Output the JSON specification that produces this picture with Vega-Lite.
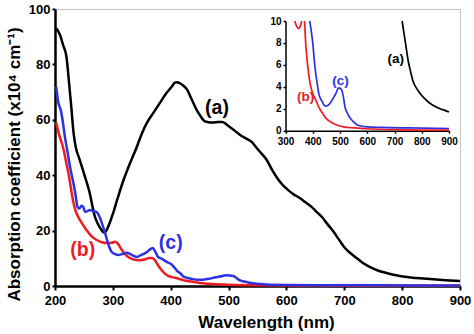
{
  "$schema": "https://vega.github.io/schema/vega-lite/v6.json",
  "width": 405,
  "height": 277,
  "autosize": "none",
  "padding": {"left": 55, "top": 9, "right": 14, "bottom": 48},
  "background": "white",
  "config": {
    "view": {"stroke": "#c4c4c4", "strokeWidth": 1},
    "font": "Liberation Sans"
  },
  "datasets": {
    "main": [
      {"s": "a", "nm": 202, "v": 93}, {"s": "a", "nm": 208, "v": 91}, {"s": "a", "nm": 214, "v": 87}, {"s": "a", "nm": 220, "v": 82.5},
      {"s": "a", "nm": 224, "v": 74}, {"s": "a", "nm": 228, "v": 65}, {"s": "a", "nm": 232, "v": 55.5}, {"s": "a", "nm": 236, "v": 50},
      {"s": "a", "nm": 242, "v": 46}, {"s": "a", "nm": 248, "v": 42}, {"s": "a", "nm": 254, "v": 38}, {"s": "a", "nm": 260, "v": 33.6},
      {"s": "a", "nm": 265, "v": 28.5}, {"s": "a", "nm": 269, "v": 25}, {"s": "a", "nm": 274, "v": 22.5}, {"s": "a", "nm": 278, "v": 21},
      {"s": "a", "nm": 283, "v": 19.5}, {"s": "a", "nm": 286, "v": 19.2}, {"s": "a", "nm": 290, "v": 20.5}, {"s": "a", "nm": 295, "v": 23},
      {"s": "a", "nm": 300, "v": 26}, {"s": "a", "nm": 308, "v": 31.5}, {"s": "a", "nm": 318, "v": 38}, {"s": "a", "nm": 328, "v": 43.5},
      {"s": "a", "nm": 341, "v": 50}, {"s": "a", "nm": 350, "v": 55}, {"s": "a", "nm": 359, "v": 59}, {"s": "a", "nm": 370, "v": 62.5},
      {"s": "a", "nm": 381, "v": 66}, {"s": "a", "nm": 392, "v": 69.5}, {"s": "a", "nm": 402, "v": 72}, {"s": "a", "nm": 407, "v": 73.4},
      {"s": "a", "nm": 411, "v": 73.6}, {"s": "a", "nm": 416, "v": 73.2}, {"s": "a", "nm": 422, "v": 72.3}, {"s": "a", "nm": 428, "v": 71},
      {"s": "a", "nm": 436, "v": 67.5}, {"s": "a", "nm": 445, "v": 63.5}, {"s": "a", "nm": 451, "v": 61.5}, {"s": "a", "nm": 456, "v": 60},
      {"s": "a", "nm": 463, "v": 59.2}, {"s": "a", "nm": 473, "v": 59}, {"s": "a", "nm": 482, "v": 59.2}, {"s": "a", "nm": 489, "v": 59.2},
      {"s": "a", "nm": 496, "v": 58.4}, {"s": "a", "nm": 502, "v": 57.4}, {"s": "a", "nm": 511, "v": 56}, {"s": "a", "nm": 520, "v": 54.5},
      {"s": "a", "nm": 530, "v": 53.3}, {"s": "a", "nm": 540, "v": 52}, {"s": "a", "nm": 548, "v": 50}, {"s": "a", "nm": 557, "v": 47.8},
      {"s": "a", "nm": 566, "v": 45.5}, {"s": "a", "nm": 575, "v": 42}, {"s": "a", "nm": 584, "v": 39}, {"s": "a", "nm": 593, "v": 36.6},
      {"s": "a", "nm": 603, "v": 34.6}, {"s": "a", "nm": 613, "v": 33}, {"s": "a", "nm": 623, "v": 31.8}, {"s": "a", "nm": 633, "v": 30.2},
      {"s": "a", "nm": 644, "v": 28.5}, {"s": "a", "nm": 652, "v": 26.8}, {"s": "a", "nm": 661, "v": 25}, {"s": "a", "nm": 670, "v": 22.6},
      {"s": "a", "nm": 680, "v": 20}, {"s": "a", "nm": 690, "v": 17}, {"s": "a", "nm": 700, "v": 14}, {"s": "a", "nm": 711, "v": 11.8},
      {"s": "a", "nm": 722, "v": 10}, {"s": "a", "nm": 733, "v": 8.2}, {"s": "a", "nm": 744, "v": 6.9}, {"s": "a", "nm": 758, "v": 5.6},
      {"s": "a", "nm": 773, "v": 4.7}, {"s": "a", "nm": 787, "v": 4}, {"s": "a", "nm": 801, "v": 3.4}, {"s": "a", "nm": 825, "v": 2.9},
      {"s": "a", "nm": 848, "v": 2.5}, {"s": "a", "nm": 875, "v": 2.1}, {"s": "a", "nm": 900, "v": 1.8},

      {"s": "b", "nm": 202, "v": 59}, {"s": "b", "nm": 208, "v": 54}, {"s": "b", "nm": 214, "v": 50}, {"s": "b", "nm": 219, "v": 45},
      {"s": "b", "nm": 223, "v": 41}, {"s": "b", "nm": 227, "v": 36}, {"s": "b", "nm": 231, "v": 31}, {"s": "b", "nm": 235, "v": 27.5},
      {"s": "b", "nm": 240, "v": 25}, {"s": "b", "nm": 247, "v": 22.5}, {"s": "b", "nm": 255, "v": 20}, {"s": "b", "nm": 263, "v": 18},
      {"s": "b", "nm": 272, "v": 16.6}, {"s": "b", "nm": 281, "v": 15.8}, {"s": "b", "nm": 290, "v": 15.5}, {"s": "b", "nm": 298, "v": 15.6},
      {"s": "b", "nm": 304, "v": 16}, {"s": "b", "nm": 309, "v": 15.2}, {"s": "b", "nm": 314, "v": 13.5}, {"s": "b", "nm": 320, "v": 11.8},
      {"s": "b", "nm": 328, "v": 10.3}, {"s": "b", "nm": 335, "v": 9.6}, {"s": "b", "nm": 345, "v": 9.3}, {"s": "b", "nm": 355, "v": 9.6},
      {"s": "b", "nm": 363, "v": 10.1}, {"s": "b", "nm": 368, "v": 10.1}, {"s": "b", "nm": 373, "v": 9.2}, {"s": "b", "nm": 378, "v": 7.5},
      {"s": "b", "nm": 384, "v": 5.8}, {"s": "b", "nm": 393, "v": 4}, {"s": "b", "nm": 402, "v": 3.2}, {"s": "b", "nm": 411, "v": 2.8},
      {"s": "b", "nm": 422, "v": 2.1}, {"s": "b", "nm": 436, "v": 1.6}, {"s": "b", "nm": 450, "v": 1.1}, {"s": "b", "nm": 466, "v": 0.8},
      {"s": "b", "nm": 490, "v": 0.5}, {"s": "b", "nm": 513, "v": 0.35}, {"s": "b", "nm": 550, "v": 0.25}, {"s": "b", "nm": 600, "v": 0.18},
      {"s": "b", "nm": 700, "v": 0.1}, {"s": "b", "nm": 800, "v": 0.06}, {"s": "b", "nm": 900, "v": 0.05},

      {"s": "c", "nm": 202, "v": 72}, {"s": "c", "nm": 206, "v": 66}, {"s": "c", "nm": 210, "v": 63.5}, {"s": "c", "nm": 213, "v": 60},
      {"s": "c", "nm": 217, "v": 54}, {"s": "c", "nm": 222, "v": 48}, {"s": "c", "nm": 226, "v": 43}, {"s": "c", "nm": 231, "v": 38},
      {"s": "c", "nm": 235, "v": 33.6}, {"s": "c", "nm": 239, "v": 28.5}, {"s": "c", "nm": 242, "v": 28}, {"s": "c", "nm": 246, "v": 29},
      {"s": "c", "nm": 249, "v": 28.5}, {"s": "c", "nm": 252, "v": 26.7}, {"s": "c", "nm": 256, "v": 27}, {"s": "c", "nm": 260, "v": 27.4},
      {"s": "c", "nm": 266, "v": 27}, {"s": "c", "nm": 272, "v": 26.7}, {"s": "c", "nm": 277, "v": 25}, {"s": "c", "nm": 281, "v": 22.7},
      {"s": "c", "nm": 286, "v": 19.5}, {"s": "c", "nm": 290, "v": 16.6}, {"s": "c", "nm": 294, "v": 14}, {"s": "c", "nm": 298, "v": 12.3},
      {"s": "c", "nm": 304, "v": 11.5}, {"s": "c", "nm": 309, "v": 11.2}, {"s": "c", "nm": 316, "v": 11.5}, {"s": "c", "nm": 324, "v": 12},
      {"s": "c", "nm": 332, "v": 11.3}, {"s": "c", "nm": 341, "v": 10.5}, {"s": "c", "nm": 350, "v": 11.3}, {"s": "c", "nm": 359, "v": 12.3},
      {"s": "c", "nm": 365, "v": 13.3}, {"s": "c", "nm": 369, "v": 13.7}, {"s": "c", "nm": 373, "v": 12.5}, {"s": "c", "nm": 378, "v": 10.5},
      {"s": "c", "nm": 385, "v": 9.8}, {"s": "c", "nm": 393, "v": 8.7}, {"s": "c", "nm": 400, "v": 8}, {"s": "c", "nm": 405, "v": 7},
      {"s": "c", "nm": 411, "v": 5.5}, {"s": "c", "nm": 417, "v": 4.5}, {"s": "c", "nm": 422, "v": 3.4}, {"s": "c", "nm": 429, "v": 2.9},
      {"s": "c", "nm": 436, "v": 2.6}, {"s": "c", "nm": 447, "v": 2.25}, {"s": "c", "nm": 456, "v": 2.3}, {"s": "c", "nm": 466, "v": 2.6},
      {"s": "c", "nm": 476, "v": 3.1}, {"s": "c", "nm": 485, "v": 3.4}, {"s": "c", "nm": 496, "v": 3.9}, {"s": "c", "nm": 508, "v": 3.6},
      {"s": "c", "nm": 513, "v": 3}, {"s": "c", "nm": 518, "v": 2.2}, {"s": "c", "nm": 527, "v": 1.6}, {"s": "c", "nm": 536, "v": 1.2},
      {"s": "c", "nm": 550, "v": 0.8}, {"s": "c", "nm": 566, "v": 0.5}, {"s": "c", "nm": 600, "v": 0.35}, {"s": "c", "nm": 650, "v": 0.3},
      {"s": "c", "nm": 750, "v": 0.25}, {"s": "c", "nm": 900, "v": 0.2}
    ],
    "inset": [
      {"s": "a", "seg": "a", "nm": 728, "v": 10}, {"s": "a", "seg": "a", "nm": 734, "v": 9}, {"s": "a", "seg": "a", "nm": 739, "v": 8.2},
      {"s": "a", "seg": "a", "nm": 745, "v": 7.2}, {"s": "a", "seg": "a", "nm": 750, "v": 6.4}, {"s": "a", "seg": "a", "nm": 759, "v": 5.4},
      {"s": "a", "seg": "a", "nm": 768, "v": 4.5}, {"s": "a", "seg": "a", "nm": 780, "v": 3.9}, {"s": "a", "seg": "a", "nm": 794, "v": 3.4},
      {"s": "a", "seg": "a", "nm": 812, "v": 2.9}, {"s": "a", "seg": "a", "nm": 830, "v": 2.5}, {"s": "a", "seg": "a", "nm": 850, "v": 2.2},
      {"s": "a", "seg": "a", "nm": 867, "v": 2}, {"s": "a", "seg": "a", "nm": 885, "v": 1.85}, {"s": "a", "seg": "a", "nm": 900, "v": 1.7},

      {"s": "b", "seg": "b1", "nm": 334, "v": 10}, {"s": "b", "seg": "b1", "nm": 341, "v": 9.5}, {"s": "b", "seg": "b1", "nm": 349, "v": 9.3},
      {"s": "b", "seg": "b1", "nm": 355, "v": 9.6}, {"s": "b", "seg": "b1", "nm": 360, "v": 10},

      {"s": "b", "seg": "b2", "nm": 370, "v": 10}, {"s": "b", "seg": "b2", "nm": 374, "v": 8}, {"s": "b", "seg": "b2", "nm": 378, "v": 6.8},
      {"s": "b", "seg": "b2", "nm": 382, "v": 5.8}, {"s": "b", "seg": "b2", "nm": 387, "v": 4.8}, {"s": "b", "seg": "b2", "nm": 393, "v": 4},
      {"s": "b", "seg": "b2", "nm": 400, "v": 3.4}, {"s": "b", "seg": "b2", "nm": 411, "v": 2.8}, {"s": "b", "seg": "b2", "nm": 423, "v": 2.1},
      {"s": "b", "seg": "b2", "nm": 436, "v": 1.6}, {"s": "b", "seg": "b2", "nm": 450, "v": 1.1}, {"s": "b", "seg": "b2", "nm": 466, "v": 0.8},
      {"s": "b", "seg": "b2", "nm": 490, "v": 0.5}, {"s": "b", "seg": "b2", "nm": 513, "v": 0.35}, {"s": "b", "seg": "b2", "nm": 550, "v": 0.25},
      {"s": "b", "seg": "b2", "nm": 600, "v": 0.18}, {"s": "b", "seg": "b2", "nm": 700, "v": 0.1}, {"s": "b", "seg": "b2", "nm": 800, "v": 0.06},
      {"s": "b", "seg": "b2", "nm": 900, "v": 0.05},

      {"s": "c", "seg": "c", "nm": 389, "v": 10}, {"s": "c", "seg": "c", "nm": 395, "v": 9}, {"s": "c", "seg": "c", "nm": 400, "v": 8},
      {"s": "c", "seg": "c", "nm": 405, "v": 6.6}, {"s": "c", "seg": "c", "nm": 411, "v": 5.2}, {"s": "c", "seg": "c", "nm": 417, "v": 4.2},
      {"s": "c", "seg": "c", "nm": 422, "v": 3.4}, {"s": "c", "seg": "c", "nm": 429, "v": 2.9}, {"s": "c", "seg": "c", "nm": 436, "v": 2.6},
      {"s": "c", "seg": "c", "nm": 441, "v": 2.35}, {"s": "c", "seg": "c", "nm": 447, "v": 2.25}, {"s": "c", "seg": "c", "nm": 455, "v": 2.3},
      {"s": "c", "seg": "c", "nm": 466, "v": 2.6}, {"s": "c", "seg": "c", "nm": 476, "v": 3}, {"s": "c", "seg": "c", "nm": 485, "v": 3.4},
      {"s": "c", "seg": "c", "nm": 491, "v": 3.75}, {"s": "c", "seg": "c", "nm": 496, "v": 3.9}, {"s": "c", "seg": "c", "nm": 502, "v": 3.85},
      {"s": "c", "seg": "c", "nm": 508, "v": 3.6}, {"s": "c", "seg": "c", "nm": 513, "v": 3}, {"s": "c", "seg": "c", "nm": 518, "v": 2.2},
      {"s": "c", "seg": "c", "nm": 527, "v": 1.6}, {"s": "c", "seg": "c", "nm": 536, "v": 1.2}, {"s": "c", "seg": "c", "nm": 550, "v": 0.8},
      {"s": "c", "seg": "c", "nm": 566, "v": 0.5}, {"s": "c", "seg": "c", "nm": 600, "v": 0.35}, {"s": "c", "seg": "c", "nm": 650, "v": 0.3},
      {"s": "c", "seg": "c", "nm": 750, "v": 0.25}, {"s": "c", "seg": "c", "nm": 900, "v": 0.2}
    ],
    "mainLabels": [
      {"s": "a", "t": "(a)", "nm": 480, "v": 64.3},
      {"s": "b", "t": "(b)", "nm": 248, "v": 13},
      {"s": "c", "t": "(c)", "nm": 400, "v": 15.5}
    ],
    "insetLabels": [
      {"s": "a", "t": "(a)", "nm": 705, "v": 6.5},
      {"s": "b", "t": "(b)", "nm": 374, "v": 3.07},
      {"s": "c", "t": "(c)", "nm": 502, "v": 4.5}
    ]
  },
  "layer": [
    {
      "layer": [
        {
          "data": {"name": "main"},
          "mark": {"type": "line", "strokeWidth": 2.5, "interpolate": "monotone"},
          "encoding": {
            "x": {
              "field": "nm", "type": "quantitative",
              "scale": {"domain": [200, 900], "nice": false, "zero": false},
              "axis": {
                "title": "Wavelength (nm)",
                "values": [200, 300, 400, 500, 600, 700, 800, 900],
                "grid": false,
                "domainColor": "black", "domainWidth": 2.5,
                "tickColor": "black", "tickWidth": 2, "tickSize": 4,
                "labelFont": "Liberation Sans", "labelFontWeight": "bold", "labelFontSize": 13, "labelColor": "black",
                "labelPadding": 4, "labelFlush": false, "labelOverlap": false,
                "titleFont": "Liberation Sans", "titleFontWeight": "bold", "titleFontSize": 17, "titleColor": "black",
                "titleX": 211, "titleY": 41, "titleBaseline": "alphabetic"
              }
            },
            "y": {
              "field": "v", "type": "quantitative",
              "scale": {"domain": [0, 100], "nice": false},
              "axis": {
                "title": "Absorption coefficient (x10⁴ cm⁻¹)",
                "values": [0, 20, 40, 60, 80, 100],
                "grid": false,
                "domainColor": "black", "domainWidth": 2.5,
                "tickColor": "black", "tickWidth": 2, "tickSize": 3,
                "labelFont": "Liberation Sans", "labelFontWeight": "bold", "labelFontSize": 13, "labelColor": "black",
                "labelPadding": 2, "labelFlush": false, "labelOverlap": false,
                "titleFont": "Liberation Sans", "titleFontWeight": "bold", "titleFontSize": 17, "titleColor": "black",
                "titleX": -35.5, "titleY": 155, "titleBaseline": "alphabetic"
              }
            },
            "color": {
              "field": "s", "type": "nominal",
              "scale": {"domain": ["a", "b", "c"], "range": ["#000000", "#ed1c24", "#2e31e0"]},
              "legend": null
            }
          }
        },
        {
          "data": {"name": "mainLabels"},
          "mark": {"type": "text", "font": "Liberation Sans", "fontWeight": "bold", "fontSize": 19.5, "align": "center", "baseline": "middle"},
          "encoding": {
            "x": {"field": "nm", "type": "quantitative"},
            "y": {"field": "v", "type": "quantitative"},
            "text": {"field": "t"},
            "color": {"field": "s", "type": "nominal", "legend": null}
          }
        }
      ]
    },
    {
      "layer": [
        {
          "data": {"name": "inset"},
          "mark": {"type": "line", "strokeWidth": 1.7, "interpolate": "monotone"},
          "encoding": {
            "x": {
              "field": "nm", "type": "quantitative",
              "scale": {"domain": [300, 900], "range": [230.5, 394], "nice": false, "zero": false},
              "axis": {
                "orient": "bottom", "offset": -155.3, "title": null,
                "values": [300, 400, 500, 600, 700, 800, 900],
                "grid": false,
                "domainColor": "black", "domainWidth": 1.5,
                "tickColor": "black", "tickWidth": 1.5, "tickSize": 2.5,
                "labelFont": "Liberation Sans", "labelFontWeight": "bold", "labelFontSize": 10, "labelColor": "black",
                "labelPadding": 3, "labelFlush": false, "labelOverlap": false
              }
            },
            "y": {
              "field": "v", "type": "quantitative",
              "scale": {"domain": [0, 10], "range": [121.7, 12], "nice": false, "zero": false},
              "axis": {
                "orient": "left", "offset": -230.5, "title": null,
                "values": [0, 2, 4, 6, 8, 10],
                "grid": false,
                "domainColor": "black", "domainWidth": 1.5,
                "tickColor": "black", "tickWidth": 1.5, "tickSize": 2.5,
                "labelFont": "Liberation Sans", "labelFontWeight": "bold", "labelFontSize": 10, "labelColor": "black",
                "labelPadding": 2, "labelFlush": false, "labelOverlap": false
              }
            },
            "detail": {"field": "seg"},
            "color": {"field": "s", "type": "nominal", "legend": null}
          }
        },
        {
          "mark": {"type": "rule", "color": "#c4c4c4", "strokeWidth": 1},
          "encoding": {
            "x": {"datum": 300, "type": "quantitative", "scale": {"domain": [300, 900], "range": [230.5, 394], "nice": false, "zero": false}},
            "x2": {"datum": 900},
            "y": {"datum": 10, "type": "quantitative", "scale": {"domain": [0, 10], "range": [121.7, 12], "nice": false, "zero": false}}
          }
        },
        {
          "mark": {"type": "rule", "color": "#c4c4c4", "strokeWidth": 1},
          "encoding": {
            "x": {"datum": 900, "type": "quantitative", "scale": {"domain": [300, 900], "range": [230.5, 394], "nice": false, "zero": false}},
            "y": {"datum": 0, "type": "quantitative", "scale": {"domain": [0, 10], "range": [121.7, 12], "nice": false, "zero": false}},
            "y2": {"datum": 10}
          }
        },
        {
          "data": {"name": "insetLabels"},
          "mark": {"type": "text", "font": "Liberation Sans", "fontWeight": "bold", "fontSize": 13.5, "align": "center", "baseline": "middle"},
          "encoding": {
            "x": {"field": "nm", "type": "quantitative", "scale": {"domain": [300, 900], "range": [230.5, 394], "nice": false, "zero": false}},
            "y": {"field": "v", "type": "quantitative", "scale": {"domain": [0, 10], "range": [121.7, 12], "nice": false, "zero": false}},
            "text": {"field": "t"},
            "color": {"field": "s", "type": "nominal", "legend": null}
          }
        }
      ]
    }
  ],
  "resolve": {
    "scale": {"x": "independent", "y": "independent"},
    "axis": {"x": "independent", "y": "independent"}
  }
}
